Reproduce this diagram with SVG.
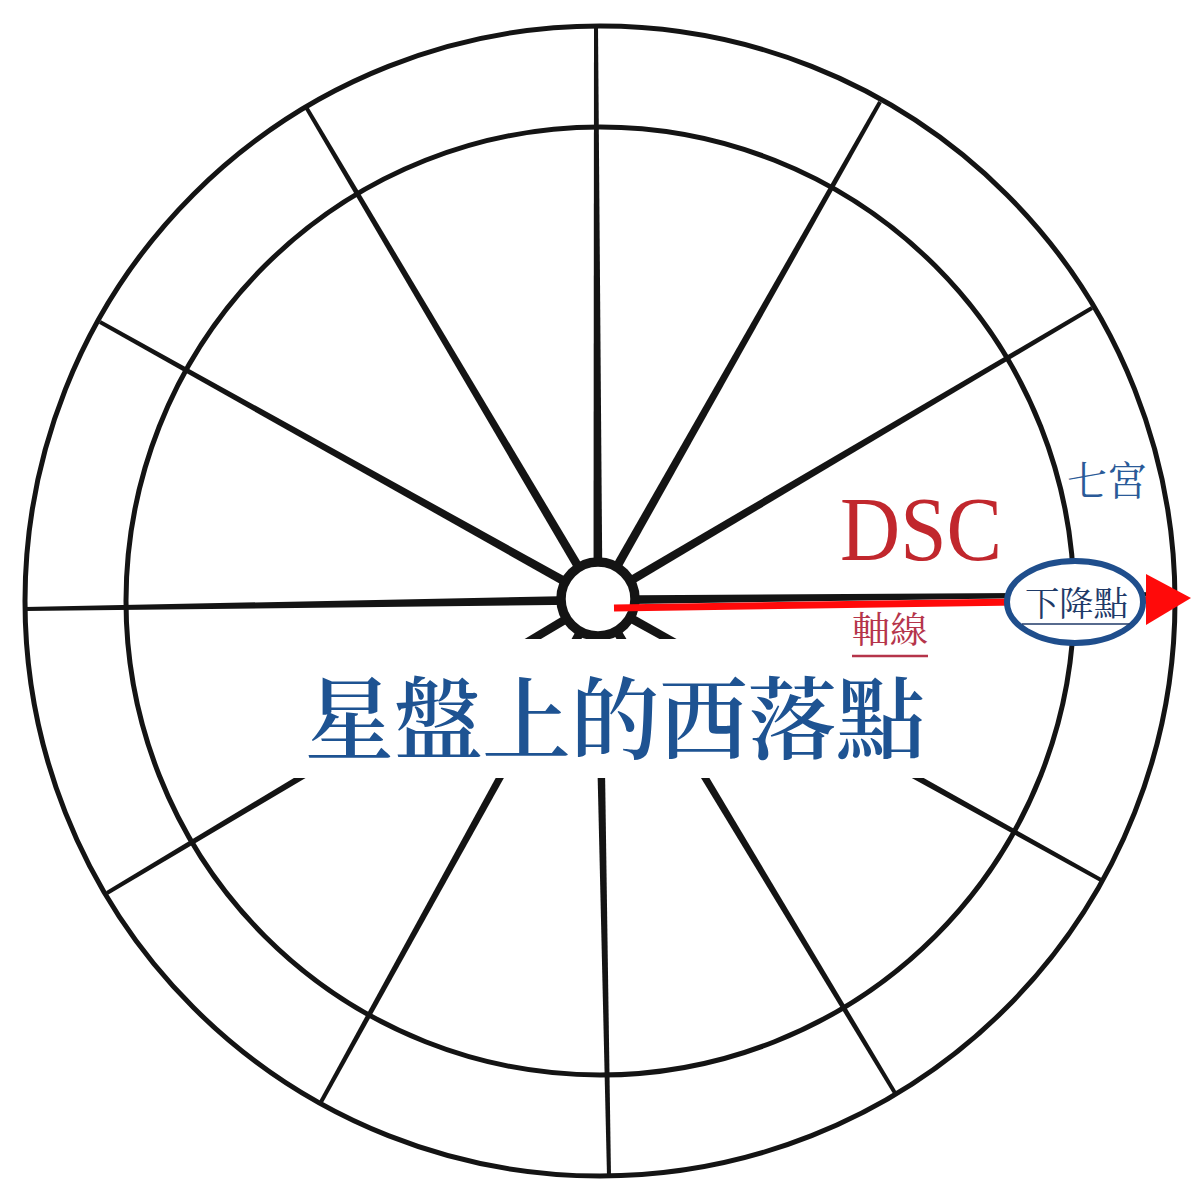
<svg xmlns="http://www.w3.org/2000/svg" width="1200" height="1200" viewBox="0 0 1200 1200">
  <style>
    .ring { fill: none; stroke: #141414; stroke-width: 5; }
    .spoke { fill: #141414; stroke: none; }
    .cjk { font-family: "Noto Serif CJK TC", "Noto Sans CJK TC", sans-serif; }
  </style>
  <rect x="0" y="0" width="1200" height="1200" fill="#ffffff"/>

  <g id="wheel">
    <circle id="outer-ring" class="ring" cx="600" cy="601" r="575"/>
    <circle id="inner-ring" class="ring" cx="600" cy="601" r="474"/>
  </g>

  <g id="connectors">
    <g id="spokes">
      <polygon class="spoke" points="602.5,600 598,27 594,27 593.5,600"/>
      <polygon class="spoke" points="601.87,597.71 307.72,105.98 304.28,108.02 594.13,602.29"/>
      <polygon class="spoke" points="601.92,602.22 881.74,102.99 878.26,101.01 594.08,597.78"/>
      <polygon class="spoke" points="600.19,596.07 100.98,320.25 99.03,323.75 595.81,603.93"/>
      <polygon class="spoke" points="600.29,603.87 1093.02,309.72 1090.98,306.28 595.71,596.13"/>
      <polygon class="spoke" points="597.93,595.5 24.97,607 25.03,611 598.07,604.5"/>
      <polygon class="spoke" points="598.05,604.5 1175.02,596 1174.98,592 597.95,595.5"/>
      <polygon class="spoke" points="595.69,596.14 105.98,891.28 108.02,894.72 600.31,603.86"/>
      <polygon class="spoke" points="595.81,603.93 1100.03,881.75 1101.97,878.25 600.19,596.07"/>
      <polygon class="spoke" points="594.06,597.83 319.25,1101.03 322.75,1102.97 601.94,602.17"/>
      <polygon class="spoke" points="594.15,602.32 893.29,1094.03 896.71,1091.97 601.85,597.68"/>
      <polygon class="spoke" points="593.5,600.09 607,1176.04 611,1175.96 602.5,599.91"/>
    </g>
  </g>

  <g id="hub">
    <circle cx="598" cy="599" r="37" fill="#ffffff" stroke="#141414" stroke-width="9.5"/>
  </g>

  <g id="title">
    <rect x="283" y="639" width="665" height="139" fill="#ffffff"/>
    <text class="cjk" x="305" y="752" font-size="90" font-weight="600" fill="#1E5392" textLength="620" lengthAdjust="spacingAndGlyphs">星盤上的西落點</text>
  </g>

  <g id="axis-arrow">
    <line x1="614" y1="608" x2="1150" y2="600" stroke="#FF0A0A" stroke-width="7"/>
    <polygon points="1146,574 1191,598 1146,625" fill="#FF0A0A"/>
  </g>

  <g id="dsc-label">
    <text x="840" y="560" font-family="Liberation Serif, serif" font-size="90" fill="#C1272D" textLength="162" lengthAdjust="spacingAndGlyphs">DSC</text>
  </g>

  <g id="axis-label">
    <text class="cjk" x="852" y="643" font-size="36" fill="#B5344A" textLength="76" lengthAdjust="spacingAndGlyphs">軸線</text>
    <line x1="852" y1="656" x2="928" y2="656" stroke="#B5344A" stroke-width="2.5"/>
  </g>

  <g id="house7-label">
    <text class="cjk" x="1067" y="495" font-size="40" fill="#2A5A98" textLength="80" lengthAdjust="spacingAndGlyphs">七宮</text>
  </g>

  <g id="descendant">
    <ellipse cx="1075" cy="602" rx="68" ry="41" fill="#ffffff" stroke="#1F4E8C" stroke-width="6"/>
    <text class="cjk" x="1025" y="616" font-size="34" fill="#1F3A68" textLength="103" lengthAdjust="spacingAndGlyphs">下降點</text>
    <line x1="1022" y1="624" x2="1130" y2="624" stroke="#1F3A68" stroke-width="1.5"/>
  </g>
</svg>
